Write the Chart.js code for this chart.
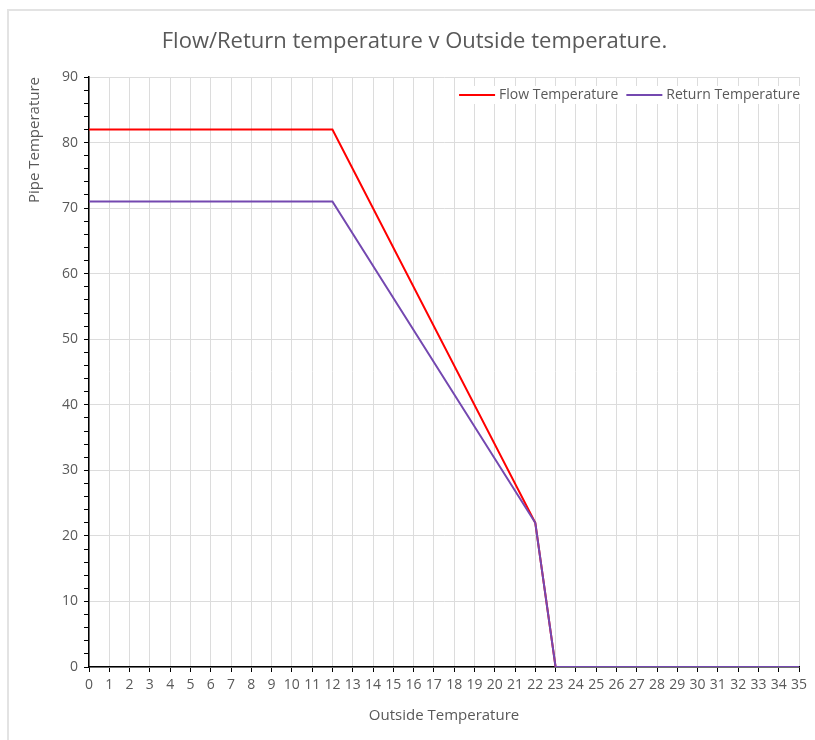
<!DOCTYPE html>
<html>
<head>
<meta charset="utf-8">
<title>Flow/Return temperature</title>
<script src="https://cdn.jsdelivr.net/npm/chart.js@4.4.1/dist/chart.umd.min.js"></script>
<style>
    html, body { margin: 0; background: #fff; overflow: hidden; width: 815px; height: 740px; }
    .marco {
        position: absolute; left: 7px; top: 9px; width: 830px; height: 760px;
        border-top: 2px solid #e3e3e3; border-left: 2px solid #e3e3e3;
    }
    .contenedor { position: absolute; left: 0; top: 0; width: 815px; height: 740px; }
</style>
</head>
<body>
<div class="marco"></div>
<div class="contenedor"><canvas id="grafica" width="815" height="740"></canvas></div>
<script>
// Curva de compensación: temperatura exterior frente a impulsión / retorno
const outsideTemp = [0, 12, 22, 23, 35];
const flowTemp = [82, 82, 22, 0, 0];
const returnTemp = [71, 71, 22, 0, 0];

const gris = '#595959';
const fuente = '"Open Sans", "Liberation Sans", sans-serif';

function puntos(valores) {
    return outsideTemp.map(function (t, i) { return { x: t, y: valores[i] }; });
}

// Leyenda en horizontal dentro del área del gráfico, arriba a la derecha
const leyendaDentro = {
    id: 'leyendaDentro',
    afterDraw: function (chart) {
        const ctx = chart.ctx;
        const area = chart.chartArea;
        const largo = 36, hueco = 4, separacion = 8;
        ctx.save();
        ctx.font = '14px ' + fuente;
        ctx.textBaseline = 'middle';
        let items = chart.data.datasets.map(function (ds) {
            return { texto: ds.label, color: ds.borderColor, ancho: ctx.measureText(ds.label).width };
        });
        let total = 0;
        items.forEach(function (it, i) {
            total += largo + hueco + it.ancho + (i > 0 ? separacion : 0);
        });
        let x = area.right + 1 - total;
        let y = area.top + 18;
        ctx.fillStyle = '#fff';
        ctx.fillRect(x - 4, y - 9, total + 6, 18);
        items.forEach(function (it) {
            ctx.strokeStyle = it.color;
            ctx.lineWidth = 2;
            ctx.beginPath();
            ctx.moveTo(x, y);
            ctx.lineTo(x + largo, y);
            ctx.stroke();
            ctx.fillStyle = gris;
            ctx.fillText(it.texto, x + largo + hueco, y);
            x += largo + hueco + it.ancho + separacion;
        });
        ctx.restore();
    }
};

let canvas = document.getElementById('grafica');

new Chart(canvas, {
    type: 'line',
    data: {
        datasets: [{
            label: 'Flow Temperature',
            data: puntos(flowTemp),
            borderColor: '#ff0000',
            backgroundColor: '#ff0000',
            borderWidth: 2,
            pointRadius: 0,
            tension: 0,
            order: 1
        }, {
            label: 'Return Temperature',
            data: puntos(returnTemp),
            borderColor: '#7448b0',
            backgroundColor: '#7448b0',
            borderWidth: 2,
            pointRadius: 0,
            tension: 0,
            order: 0
        }]
    },
    options: {
        responsive: false,
        animation: false,
        devicePixelRatio: 1,
        layout: { padding: { left: 30, right: 16, top: 0, bottom: 0 } },
        plugins: {
            title: {
                display: true,
                text: 'Flow/Return temperature v Outside temperature.',
                color: gris,
                font: { family: fuente, size: 22, weight: 'normal' },
                padding: { top: 29, bottom: 21.6 }
            },
            legend: { display: false },
            tooltip: { enabled: false }
        },
        scales: {
            x: {
                type: 'linear',
                min: 0,
                max: 35,
                afterFit: function (scale) { scale.height = 73; },
                ticks: {
                    stepSize: 1,
                    autoSkip: false,
                    maxRotation: 0,
                    color: gris,
                    padding: 5,
                    font: { family: fuente, size: 14 }
                },
                grid: { color: '#dcdcdc', tickColor: '#000', tickLength: 5 },
                border: { color: '#000', width: 1.5 },
                title: {
                    display: true,
                    text: 'Outside Temperature',
                    color: gris,
                    font: { family: fuente, size: 15 },
                    padding: { top: 0, bottom: 15 }
                }
            },
            y: {
                min: 0,
                max: 90,
                afterFit: function (scale) { scale.width = 59; },
                ticks: {
                    stepSize: 2,
                    autoSkip: false,
                    color: gris,
                    padding: 6,
                    font: { family: fuente, size: 14 },
                    callback: function (v) { return v % 10 === 0 ? v : ''; }
                },
                grid: {
                    color: function (ctx) {
                        return ctx.tick && ctx.tick.value % 10 === 0 ? '#dcdcdc' : 'rgba(0,0,0,0)';
                    },
                    tickColor: '#000',
                    tickLength: 5
                },
                border: { color: '#000', width: 1.5 },
                title: {
                    display: true,
                    text: 'Pipe Temperature',
                    align: 'end',
                    color: gris,
                    font: { family: fuente, size: 15 },
                    padding: { top: -4, bottom: 0 }
                }
            }
        }
    },
    plugins: [leyendaDentro]
});
</script>
</body>
</html>
